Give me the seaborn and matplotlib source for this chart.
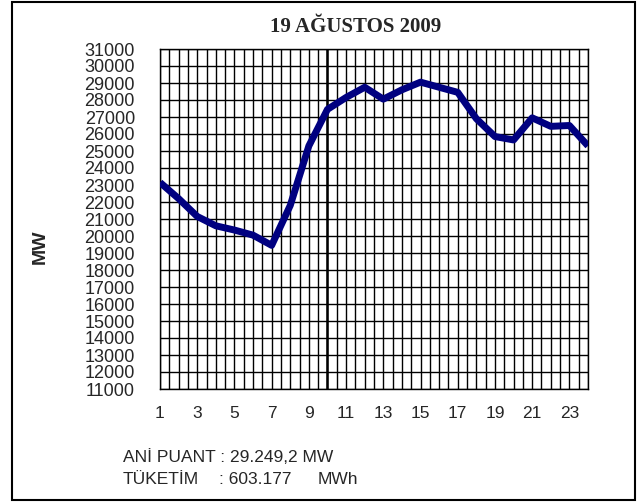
import matplotlib
matplotlib.use("Agg")
import matplotlib.pyplot as plt
import numpy as np
import pandas as pd
import seaborn as sns
from matplotlib.ticker import MultipleLocator, FixedLocator, FuncFormatter
from matplotlib.patches import Rectangle

# ---- data ----
hours = list(range(1, 25))
load_mw = [23150, 22200, 21150, 20600, 20350, 20050, 19450, 21800,
           25300, 27450, 28150, 28750, 28050, 28600, 29050, 28750,
           28450, 26900, 25850, 25650, 26950, 26450, 26500, 25300]
y_ticks = list(range(11000, 31001, 1000))
x_label_hours = [1, 3, 5, 7, 9, 11, 13, 15, 17, 19, 21, 23]
title = "19 AĞUSTOS 2009"
y_label = "MW"
info_line1 = "ANİ PUANT : 29.249,2 MW"
info_line2 = ["TÜKETİM", ": 603.177", "MWh"]

df = pd.DataFrame({"hour": hours, "load": load_mw})

sns.set_style("white")
plt.rcParams["font.family"] = ["Liberation Sans", "DejaVu Sans"]

W, H = 638, 504
fig = plt.figure(figsize=(W / 100, H / 100), dpi=100)
ax = fig.add_axes([160 / W, 1 - 389 / H, (588 - 160) / W, (389 - 49) / H])

# grid
ax.set_xlim(1, 24)
ax.set_ylim(11000, 31000)
ax.xaxis.set_major_locator(FixedLocator(hours))
ax.xaxis.set_minor_locator(MultipleLocator(0.5))
ax.yaxis.set_major_locator(FixedLocator(y_ticks))
ax.grid(True, which="both", axis="x", color="black", linewidth=1.0)
ax.grid(True, which="major", axis="y", color="black", linewidth=1.0)
ax.set_axisbelow(True)
ax.axvline(10, color="black", linewidth=1.8, zorder=1)

sns.lineplot(data=df, x="hour", y="load", ax=ax, color="#000080",
             linewidth=5.0, solid_joinstyle="round", solid_capstyle="butt",
             zorder=3)

ax.xaxis.set_major_formatter(FuncFormatter(
    lambda v, p: str(int(round(v))) if int(round(v)) in x_label_hours else ""))
ax.yaxis.set_major_formatter(FuncFormatter(lambda v, p: f"{int(v)}"))
ax.tick_params(axis="x", which="major", direction="out", length=4, width=1,
               color="black", pad=8, labelsize=12.5)
ax.tick_params(axis="x", which="minor", length=0)
ax.tick_params(axis="y", which="major", direction="out", length=7, width=1,
               color="black", pad=11, labelsize=13)
ax.set_xlabel("")
ax.set_ylabel("")
for s in ax.spines.values():
    s.set_color("black")
    s.set_linewidth(1.0)

# title and labels
fig.text(356 / W, 1 - 27 / H, title, ha="center", va="center",
         fontsize=15, fontweight="bold",
         family=["Liberation Serif", "DejaVu Serif"])
fig.text(40 / W, 1 - 247 / H, y_label, ha="center", va="center",
         rotation=90, fontsize=14, fontweight="bold")

fs = 12.5
fig.text(123 / W, 1 - 457 / H, info_line1, ha="left", va="center", fontsize=fs)
t_colon_x = 123 + 0  # placeholder adjusted below
fig.text(123 / W, 1 - 479 / H, info_line2[0], ha="left", va="center", fontsize=fs)
fig.text(219 / W, 1 - 479 / H, info_line2[1], ha="left", va="center", fontsize=fs)
fig.text(318 / W, 1 - 479 / H, info_line2[2], ha="left", va="center", fontsize=fs)

# outer frame
fig.patches.append(Rectangle((12 / W, 1 - 500 / H), (635 - 12) / W, (500 - 2) / H,
                             transform=fig.transFigure, fill=False,
                             edgecolor="black", linewidth=1.5))

fig.savefig("out.png", dpi=100)
